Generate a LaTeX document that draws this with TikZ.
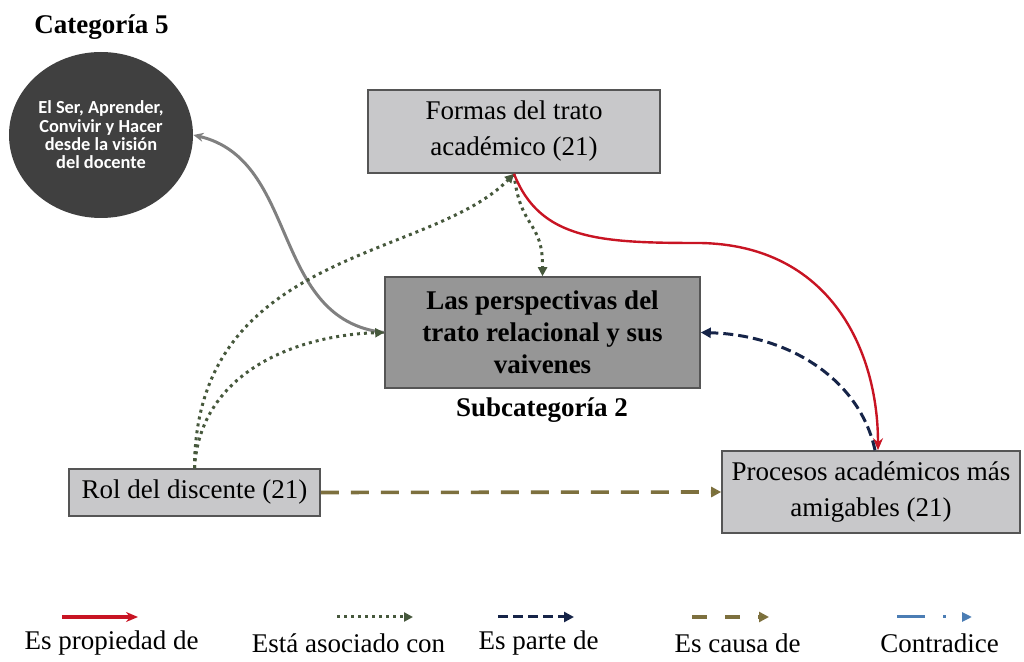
\documentclass[tikz,border=0pt]{standalone}
\usepackage{fontspec}
\setmainfont{Liberation Serif}
\newfontfamily\circfont{Carlito}
\usepackage{tikz}
\usetikzlibrary{arrows.meta, positioning, shapes.geometric}
\definecolor{BoxEdge}{RGB}{85, 85, 85}
\definecolor{LightGray}{RGB}{200, 200, 202}
\definecolor{MidGray}{RGB}{150, 150, 150}
\definecolor{DarkDisc}{RGB}{64, 64, 64}
\definecolor{PropRed}{RGB}{200, 20, 35}
\definecolor{AsocGreen}{RGB}{70, 88, 60}
\definecolor{ParteNavy}{RGB}{22, 36, 72}
\definecolor{CausaOlive}{RGB}{125, 112, 62}
\definecolor{CausaTip}{RGB}{105, 115, 40}
\definecolor{ContraBlue}{RGB}{75, 125, 180}
\definecolor{LinkGray}{RGB}{128, 128, 128}

\begin{document}
\begin{tikzpicture}[
    x=0.5pt, y=-0.5pt,
    every node/.style={font=\fontsize{13.5}{18}\selectfont, align=center},
    codigo/.style={draw=BoxEdge, fill=LightGray, line width=0.8pt, inner sep=0pt},
    nucleo/.style={draw=BoxEdge, fill=MidGray, line width=0.8pt, inner sep=0pt,
                minimum width=157.5pt, minimum height=55.5pt,
                font=\fontsize{13.5}{16}\selectfont\bfseries},
    categoria/.style={ellipse, fill=DarkDisc, text=white, inner sep=0pt,
                minimum width=92pt, minimum height=83pt,
                font=\circfont\fontsize{9.2}{9.2}\selectfont\bfseries},
    rotulo/.style={font=\fontsize{13.5}{16}\selectfont\bfseries},
    propiedad/.style={-{Stealth[length=6pt, width=5pt]}, PropRed, line width=1.2pt},
    asociado/.style={-{Triangle[length=4.5pt, width=4.5pt]}, AsocGreen, line width=1.5pt,
                dash pattern=on 1.5pt off 2pt},
    parte/.style={-{Triangle[length=5pt, width=5pt]}, ParteNavy, line width=1.5pt,
                dash pattern=on 5pt off 2.5pt},
    causa/.style={-{Triangle[length=5pt, width=5pt, fill=CausaTip]}, CausaOlive,
                line width=1.8pt, dash pattern=on 9pt off 6pt},
    contradice/.style={-{Triangle[length=5pt, width=4.5pt]}, ContraBlue, line width=1.5pt,
                dash pattern=on 14pt off 9pt on 1.5pt off 9pt},
    vinculo/.style={-{Stealth[length=5pt, width=4.5pt]}, LinkGray, line width=1.5pt}
]
\useasboundingbox (0,0) rectangle (1024,662);

% nodos
\node[rotulo] (cat5) at (101.5,27) {Categoría 5};
\node[categoria] (vision) at (101,135) {El Ser, Aprender,\\Convivir y Hacer\\desde la visión\\del docente};
\node[codigo, minimum width=146pt, minimum height=41.5pt] (formas) at (514,131.5) {Formas del trato\\académico (21)};
\node[nucleo] (persp) at (542.5,332.5) {Las perspectivas del\\trato relacional y sus\\vaivenes};
\node[rotulo] (subcat) at (542,410) {Subcategoría 2};
\node[codigo, minimum width=125.5pt, minimum height=23.5pt] (rol) at (194.5,492.5) {Rol del discente (21)};
\node[codigo, minimum width=149pt, minimum height=41pt] (procesos) at (871,492) {Procesos académicos más\\amigables (21)};

% relaciones
\draw[vinculo] (persp.west) .. controls (270,320) and (300,160) .. (vision.east);
\draw[asociado] (rol.north) .. controls (195,250) and (430,260) .. (formas.south);
\draw[asociado] (rol.north) .. controls (200,370) and (300,335) .. (persp.west);
\draw[asociado] (formas.south) .. controls (520,230) and (543,220) .. (persp.north);
\draw[propiedad] (formas.south) .. controls (540,240) and (600,243) .. (700,243)
    .. controls (830,245) and (878,350) .. ([xshift=3.5pt]procesos.north);
\draw[parte] ([xshift=2pt]procesos.north) .. controls (860,380) and (790,335) .. (persp.east);
\draw[causa] (rol.east) -- (procesos.west);

% leyenda
\coordinate (propA) at (62,617);   \coordinate (propB) at (138,617);
\coordinate (asocA) at (337,617);  \coordinate (asocB) at (413,617);
\coordinate (parA) at (498,617);   \coordinate (parB) at (574,617);
\coordinate (cauA) at (692,617);   \coordinate (cauB) at (769,617);
\coordinate (conA) at (897,617);   \coordinate (conB) at (972,617);
\draw[propiedad, line width=1.8pt] (propA) -- (propB);
\draw[asociado] (asocA) -- (asocB);
\draw[parte] (parA) -- (parB);
\draw[causa, dash pattern=on 7.5pt off 9pt] (cauA) -- (cauB);
\draw[contradice] (conA) -- (conB);
\node (leyProp) at (111.5,643) {Es propiedad de};
\node (leyAsoc) at (348.5,643) {Está asociado con};
\node (leyParte) at (538.5,643) {Es parte de};
\node (leyCausa) at (737.5,643) {Es causa de};
\node (leyContra) at (939.5,643) {Contradice};
\end{tikzpicture}
\end{document}
